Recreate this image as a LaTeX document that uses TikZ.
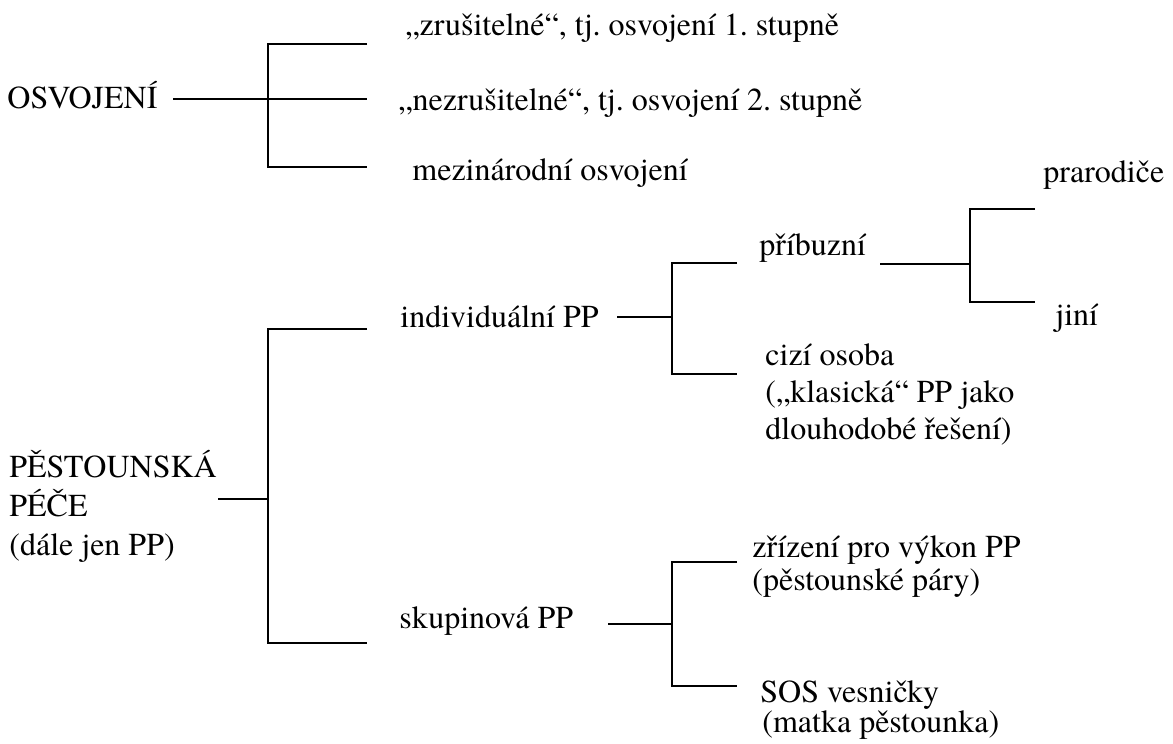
\documentclass[tikz,border=0pt]{standalone}
\usepackage{fontspec}
\setmainfont{TeX Gyre Termes}
\frenchspacing

\tikzset{
    lbl/.style={anchor=base west, inner sep=0pt, align=left, font=\rmfamily\fontsize{16}{19}\selectfont},
    br/.style={line width=1pt},
}

\begin{document}
\begin{tikzpicture}[x=0.5pt, y=-0.5pt]
    \useasboundingbox (0,0) rectangle (1173,744);

    % osvojeni
    \node[lbl] (osv) at (7,108) {OSVOJENÍ};
    \node[lbl] (zrus) at (405,35) {„zrušitelné“, tj. osvojení 1. stupně};
    \node[lbl] (nezrus) at (398,110) {„nezrušitelné“, tj. osvojení 2. stupně};
    \node[lbl] (mezin) at (412,180) {mezinárodní osvojení};

    \coordinate (osvS) at (173,99);
    \coordinate (osvT) at (268,44);
    \coordinate (osvB) at (268,167);
    \coordinate (zrusE) at (367,44);
    \coordinate (nezrusE) at (367,99);
    \coordinate (mezinE) at (367,167);
    \draw[br] (osvS) -- (nezrusE);
    \draw[br] (zrusE) -- (osvT) -- (osvB) -- (mezinE);

    % pestounska pece (base = last line)
    \node[lbl, font=\rmfamily\fontsize{16}{19.5}\selectfont] (pp) at (9,555) {PĚSTOUNSKÁ\\PÉČE\\(dále jen PP)};
    \node[lbl] (indiv) at (400,327) {individuální PP};
    \node[lbl] (skup) at (399,628) {skupinová PP};

    \coordinate (ppS) at (218,499);
    \coordinate (ppJ) at (268,499);
    \coordinate (ppT) at (268,329);
    \coordinate (ppB) at (268,643);
    \coordinate (indivE) at (367,329);
    \coordinate (skupE) at (367,643);
    \draw[br] (ppS) -- (ppJ);
    \draw[br] (indivE) -- (ppT) -- (ppB) -- (skupE);

    % individualni PP
    \node[lbl] (pribuz) at (759,255) {příbuzní};
    \node[lbl, font=\rmfamily\fontsize{16}{18.5}\selectfont] (cizi) at (765,439) {cizí osoba\\(„klasická“ PP jako\\dlouhodobé řešení)};

    \coordinate (indivS) at (617,317);
    \coordinate (indivJ) at (672,317);
    \coordinate (indivT) at (672,263);
    \coordinate (indivB) at (672,374);
    \coordinate (pribuzE) at (737,263);
    \coordinate (ciziE) at (737,374);
    \draw[br] (indivS) -- (indivJ);
    \draw[br] (pribuzE) -- (indivT) -- (indivB) -- (ciziE);

    % pribuzni
    \node[lbl] (prarod) at (1043,182) {prarodiče};
    \node[lbl] (jini) at (1055,325) {jiní};

    \coordinate (pribuzS) at (880,264);
    \coordinate (pribuzJ) at (970,264);
    \coordinate (pribuzT) at (970,209);
    \coordinate (pribuzB) at (970,302);
    \coordinate (prarodE) at (1035,209);
    \coordinate (jiniE) at (1035,302);
    \draw[br] (pribuzS) -- (pribuzJ);
    \draw[br] (prarodE) -- (pribuzT) -- (pribuzB) -- (jiniE);

    % skupinova PP
    \node[lbl, font=\rmfamily\fontsize{16}{16.5}\selectfont] (zriz) at (752,590) {zřízení pro výkon PP\\(pěstounské páry)};
    \node[lbl, font=\rmfamily\fontsize{16}{15}\selectfont] (sos) at (760,732) {SOS vesničky\\\hspace*{1pt}(matka pěstounka)};

    \coordinate (skupS) at (608,624);
    \coordinate (skupJ) at (672,624);
    \coordinate (skupT) at (672,562);
    \coordinate (skupB) at (672,686);
    \coordinate (zrizE) at (737,562);
    \coordinate (sosE) at (737,686);
    \draw[br] (skupS) -- (skupJ);
    \draw[br] (zrizE) -- (skupT) -- (skupB) -- (sosE);
\end{tikzpicture}
\end{document}
